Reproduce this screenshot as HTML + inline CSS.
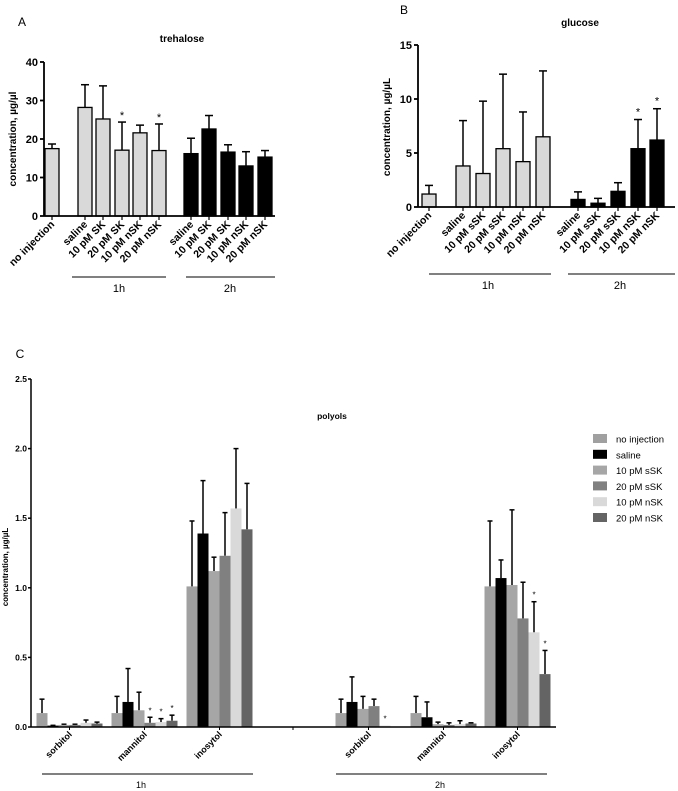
<!DOCTYPE html>
<html><head><meta charset="utf-8"><style>
body{margin:0;background:#fff}
svg{font-family:"Liberation Sans",Arial,sans-serif;display:block}
</style></head><body>
<svg id="fig" width="678" height="791" viewBox="0 0 678 791"></svg>
<script>
// Panel A data
const aCats=["no injection","saline","10 pM SK","20 pM SK","10 pM nSK","20 pM nSK","saline","10 pM SK","20 pM SK","10 pM nSK","20 pM nSK"];
const aVals=[17.5,28.2,25.2,17.1,21.6,17.0,16.2,22.6,16.6,13.0,15.3];
const aErr=[18.7,34.1,33.8,24.4,23.6,23.9,20.2,26.1,18.5,16.7,17.0];
const aStar=[0,0,0,1,0,1,0,0,0,0,0];
const aTicks=[0,10,20,30,40];
// Panel B data
const bCats=["no injection","saline","10 pM sSK","20 pM sSK","10 pM nSK","20 pM nSK","saline","10 pM sSK","20 pM sSK","10 pM nSK","20 pM nSK"];
const bVals=[1.2,3.8,3.1,5.4,4.2,6.5,0.7,0.35,1.45,5.4,6.2];
const bErr=[2.0,8.0,9.8,12.3,8.8,12.6,1.4,0.8,2.25,8.1,9.1];
const bStar=[0,0,0,0,0,0,0,0,0,1,1];
const bTicks=[0,5,10,15];
// Panel C data
const cGroups=["sorbitol","mannitol","inosytol","sorbitol","mannitol","inosytol"];
const cSeries=["no injection","saline","10 pM sSK","20 pM sSK","10 pM nSK","20 pM nSK"];
const cVals=[[0.1,0.01,0.015,0.015,0.03,0.025],[0.1,0.18,0.12,0.03,0.035,0.045],[1.01,1.39,1.12,1.23,1.57,1.42],
[0.1,0.18,0.13,0.15,0.01,0],[0.1,0.07,0.02,0.015,0.02,0.025],[1.01,1.07,1.02,0.78,0.68,0.38]];
const cErr=[[0.2,0.012,0.02,0.02,0.05,0.035],[0.22,0.42,0.25,0.07,0.06,0.085],[1.48,1.77,1.22,1.54,2.0,1.75],
[0.2,0.36,0.22,0.2,0.01,0],[0.22,0.18,0.035,0.03,0.045,0.03],[1.48,1.2,1.56,1.04,0.9,0.55]];
const cStar=[[0,0,0,0,0,0],[0,0,0,1,1,1],[0,0,0,0,0,0],[0,0,0,0,1,0],[0,0,0,0,0,0],[0,0,0,0,1,1]];
const cTicks=[0,0.5,1.0,1.5,2.0,2.5];

const NS="http://www.w3.org/2000/svg";const svg=document.getElementById('fig');
function mk(t,a,txt){const e=document.createElementNS(NS,t);for(const k in a)e.setAttribute(k,a[k]);if(txt!==undefined)e.textContent=txt;svg.appendChild(e);return e;}
function line(x1,y1,x2,y2,w,name){const e=mk('line',{x1,y1,x2,y2,stroke:'#000','stroke-width':w||1.5});

return e;}
function text(x,y,s,opts,name){const a=Object.assign({x,y,'font-size':10,'font-weight':'bold','text-anchor':'middle'},opts||{});const e=mk('text',a,s);

return e;}
function errbar(x,yTop,yBar,cap){line(x,yBar,x,yTop,1.5,'error-bar');line(x-cap,yTop,x+cap,yTop,1.5,'error-cap');}

// ---- Panel A ----
(function(){
 const ax=44,y0=216,y40=62,sy=v=>y0-(y0-y40)*v/40;
 const cx=[52,85,103,122,140,159,191,209,228,246,265];const w=14;
 text(22,26,"A",{'font-weight':'normal','font-size':12},'panel-a-letter');
 text(182,42,"trehalose",{'font-size':10},'panel-a-title');
 aCats.forEach((c,i)=>{
  errbar(cx[i],sy(aErr[i]),sy(aVals[i]),4);
  const r=mk('rect',{x:cx[i]-w/2,y:sy(aVals[i]),width:w,height:y0-sy(aVals[i]),fill:i<6?'#d9d9d9':'#000',stroke:'#000','stroke-width':1.3});
  
  
  if(aStar[i])text(cx[i],sy(aErr[i])-3,"*",{'font-size':11,'font-weight':'normal'},'significance-star');
  line(cx[i],y0,cx[i],y0+4,1.2,'x-tick');
  text(cx[i]+3,y0+9,c,{'text-anchor':'end',transform:`rotate(-45 ${cx[i]+3} ${y0+9})`,'font-size':10.5},'x-tick-label');
 });
 line(ax,y0,275,y0,1.8,'x-axis');line(ax,y40,ax,y0,1.8,'y-axis');
 aTicks.forEach(t=>{line(ax-4,sy(t),ax,sy(t),1.8,'y-tick');text(ax-6,sy(t)+4,String(t),{'text-anchor':'end','font-size':11},'y-tick-label');});
 text(16,139,"concentration, µg/µl",{transform:'rotate(-90 16 139)','font-size':10},'y-axis-title');
 line(72,277,166,277,1,'group-line-1h');text(119,292,"1h",{'font-weight':'normal','font-size':11},'group-label');
 line(186,277,275,277,1,'group-line-2h');text(230,292,"2h",{'font-weight':'normal','font-size':11},'group-label');
})();

// ---- Panel B ----
(function(){
 const ax=418,y0=207,y15=45,sy=v=>y0-(y0-y15)*v/15;
 const cx=[429,463,483,503,523,543,578,598,618,638,657];const w=14;
 text(404,14,"B",{'font-weight':'normal','font-size':12},'panel-b-letter');
 text(580,26,"glucose",{'font-size':10},'panel-b-title');
 bCats.forEach((c,i)=>{
  errbar(cx[i],sy(bErr[i]),sy(bVals[i]),4);
  const r=mk('rect',{x:cx[i]-w/2,y:sy(bVals[i]),width:w,height:y0-sy(bVals[i]),fill:i<6?'#d9d9d9':'#000',stroke:'#000','stroke-width':1.3});
  
  
  if(bStar[i])text(cx[i],sy(bErr[i])-4,"*",{'font-size':11,'font-weight':'normal'},'significance-star');
  line(cx[i],y0,cx[i],y0+4,1.2,'x-tick');
  text(cx[i]+3,y0+9,c,{'text-anchor':'end',transform:`rotate(-45 ${cx[i]+3} ${y0+9})`,'font-size':10.5},'x-tick-label');
 });
 line(ax,y0,675,y0,1.8,'x-axis');line(ax,y15,ax,y0,1.8,'y-axis');
 bTicks.forEach(t=>{line(ax-4,sy(t),ax,sy(t),1.8,'y-tick');text(ax-6,sy(t)+4,String(t),{'text-anchor':'end','font-size':11},'y-tick-label');});
 text(390,127,"concentration, µg/µL",{transform:'rotate(-90 390 127)','font-size':10},'y-axis-title');
 line(429,274,551,274,1,'group-line-1h');text(488,289,"1h",{'font-weight':'normal','font-size':11},'group-label');
 line(568,274,675,274,1,'group-line-2h');text(620,289,"2h",{'font-weight':'normal','font-size':11},'group-label');
})();

// ---- Panel C ----
(function(){
 const ax=31,y0=727,ytop=379,sy=v=>y0-(y0-ytop)*v/2.5;
 const gx=[42,117,192,341,416,490];const bw=11;
 const cols=['#a0a0a0','#000','#a6a6a6','#808080','#d9d9d9','#646464'];
 text(20,358,"C",{'font-weight':'normal','font-size':12},'panel-c-letter');
 text(332,419,"polyols",{'font-size':8.5},'panel-c-title');
 cGroups.forEach((g,gi)=>{
  cSeries.forEach((s,si)=>{
   const x=gx[gi]+si*bw;
   if(cErr[gi][si]>cVals[gi][si])errbar(x,sy(cErr[gi][si]),sy(cVals[gi][si]),2.5);
   const r=mk('rect',{x:x-bw/2,y:sy(cVals[gi][si]),width:bw,height:y0-sy(cVals[gi][si]),fill:cols[si]});
   
   
   if(cStar[gi][si])text(x,sy(cErr[gi][si])-4,"*",{'font-size':8,'font-weight':'normal'},'significance-star');
  });
  const c=gx[gi]+27.5;
  line(c,y0,c,y0+3,1,'x-tick');
  text(c+3,y0+8,g,{'text-anchor':'end',transform:`rotate(-45 ${c+3} ${y0+8})`,'font-size':9},'x-tick-label');
 });
 line(293,y0,293,y0+3,1,'x-tick');
 line(ax,y0,556,y0,1.5,'x-axis');line(ax,ytop,ax,y0,1.5,'y-axis');
 cTicks.forEach(t=>{line(ax-3,sy(t),ax,sy(t),1.5,'y-tick');text(ax-4,sy(t)+3,t.toFixed(1),{'text-anchor':'end','font-size':8.5},'y-tick-label');});
 text(8,567,"concentration, µg/µL",{transform:'rotate(-90 8 567)','font-size':8},'y-axis-title');
 line(42,774,253,774,1,'group-line-1h');text(141,788,"1h",{'font-weight':'normal','font-size':9},'group-label');
 line(336,774,547,774,1,'group-line-2h');text(440,788,"2h",{'font-weight':'normal','font-size':9},'group-label');
 cSeries.forEach((s,si)=>{
  const y=439+si*15.8;
  const r=mk('rect',{x:593,y:y-5,width:14,height:9,fill:cols[si]});
  
  
  text(616,y+3.5,s,{'text-anchor':'start','font-weight':'normal','font-size':9.5},'legend-entry');
 });
})();
</script>
</body></html>
